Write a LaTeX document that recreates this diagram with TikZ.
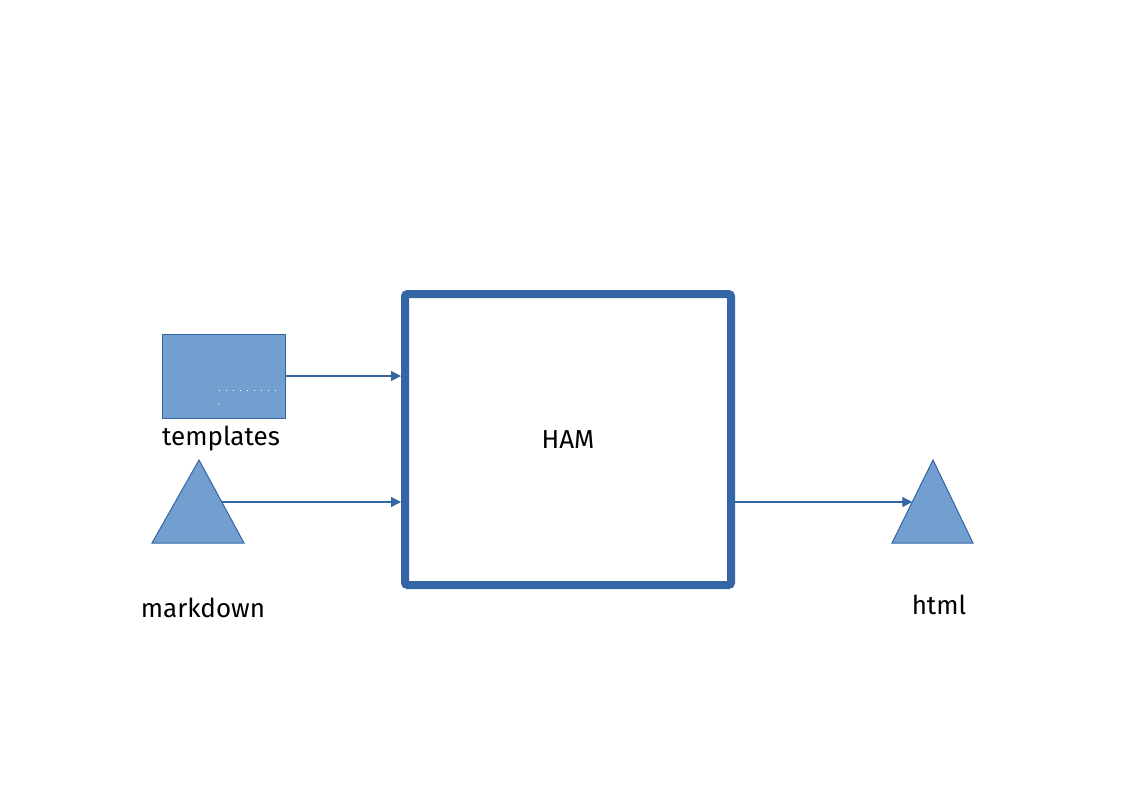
\documentclass[tikz,border=0pt]{standalone}
\usepackage{fontspec}
\setmainfont{Fira Sans}
\usetikzlibrary{arrows.meta}
\definecolor{shapefill}{HTML}{729FCF}
\definecolor{shapeline}{HTML}{3465A4}
\tikzset{
  filledbox/.style={draw=shapeline, fill=shapefill, line width=0.75pt, inner sep=0pt},
  hambox/.style={draw=shapeline, line width=6pt, rounded corners=2pt, inner sep=0pt, minimum width=244.5pt, minimum height=218.25pt, font=\fontsize{19.5pt}{22pt}\selectfont},
  conn/.style={draw=shapeline, line width=0.9pt, -{Triangle[length=7.5pt,width=7.5pt]}},
  lbl/.style={font=\fontsize{19.5pt}{22pt}\selectfont, text=black, inner sep=0pt},
  tri/.style={draw=shapeline, fill=shapefill, line width=0.75pt, line join=miter}
}
\begin{document}
\begin{tikzpicture}[x=0.75pt,y=-0.75pt]
\useasboundingbox[fill=white] (0,0) rectangle (1123,794);
% templates box
\node[filledbox, minimum width=92.25pt, minimum height=63pt] (tpl) at (223.5,376) {};
\draw[white, line width=0.75pt, dash pattern=on 0.75pt off 4.5pt] (219,390) -- (281,390);
\fill[white] (219,404) circle (0.6);
\node[lbl] (tpllbl) at (221,439) {templates};
% markdown triangle
\coordinate (mdapex) at (199,460);
\coordinate (mdbl) at (152,543);
\coordinate (mdbr) at (244,543);
\draw[tri] (mdapex) -- (mdbr) -- (mdbl) -- cycle;
\coordinate (mdr) at (221.8,502);
\node[lbl] (mdlbl) at (203,608) {markdown};
% HAM box
\node[hambox] (ham) at (568,439.5) {HAM};
% html triangle
\coordinate (htapex) at (933,460);
\coordinate (htbl) at (892,543);
\coordinate (htbr) at (973,543);
\draw[tri] (htapex) -- (htbr) -- (htbl) -- cycle;
\coordinate (htl) at (912.3,502);
\node[lbl] (htlbl) at (939,605) {html};
% connectors
\draw[conn] (tpl.east) -- (tpl.east -| ham.west);
\draw[conn] (mdr) -- (mdr -| ham.west);
\draw[conn] (ham.east |- htl) -- (htl);
\end{tikzpicture}
\end{document}
